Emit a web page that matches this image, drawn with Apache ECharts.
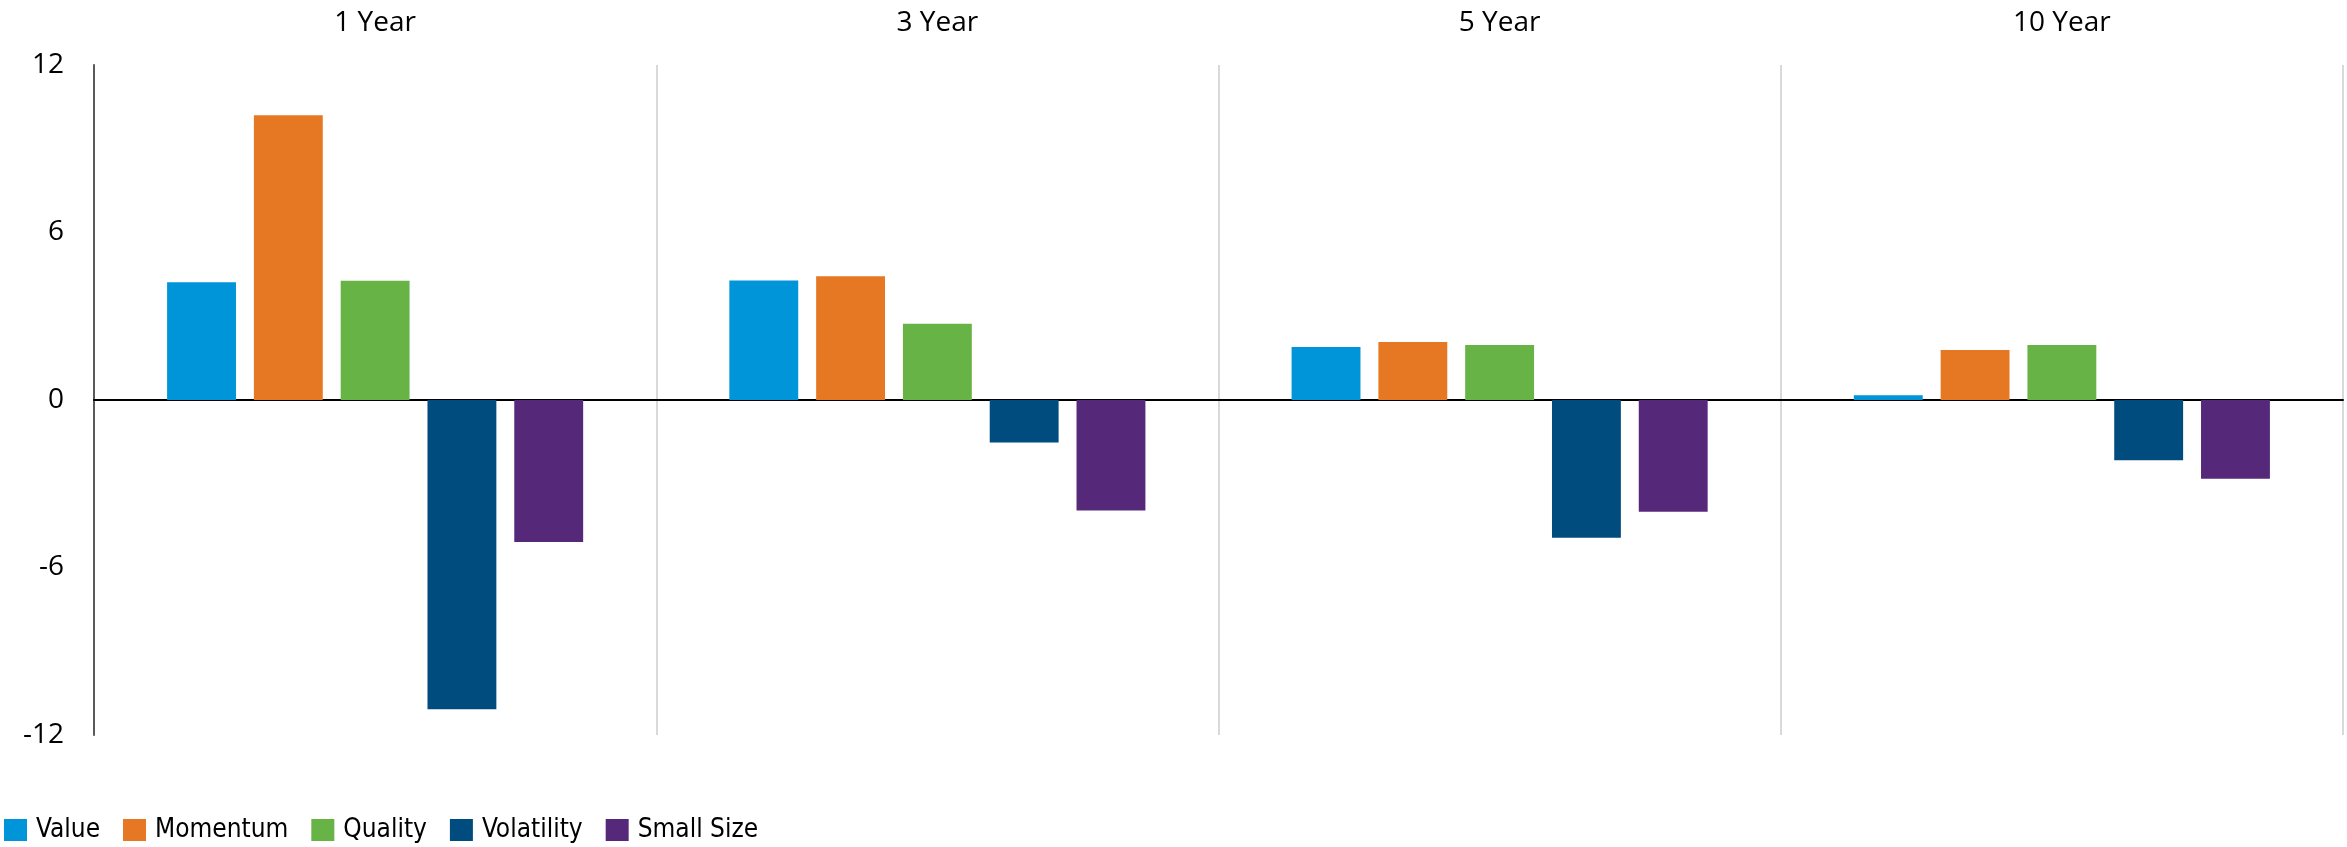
<!DOCTYPE html>
<html>
<head>
<meta charset="utf-8">
<script src="https://cdn.jsdelivr.net/npm/echarts@6/dist/echarts.min.js"></script>
<style>
html,body{margin:0;padding:0;background:#fff;}
#chart{width:2347px;height:847px;}
</style>
</head>
<body>
<div id="chart"></div>
<script>
const periods = ['1 Year', '3 Year', '5 Year', '10 Year'];
const valueData = [4.22, 4.28, 1.90, 0.17];
const momentumData = [10.2, 4.43, 2.08, 1.79];
const qualityData = [4.27, 2.73, 1.97, 1.97];
const volatilityData = [-11.08, -1.52, -4.93, -2.16];
const smallSizeData = [-5.09, -3.96, -4.00, -2.82];
const yTicks = [-12, -6, 0, 6, 12];

const seriesNames = ['Value', 'Momentum', 'Quality', 'Volatility', 'Small Size'];
const seriesColors = ['#0095D9', '#E67823', '#67B346', '#004C7E', '#56287A'];
const seriesData = [valueData, momentumData, qualityData, volatilityData, smallSizeData];

const condFont = '"Liberation Sans Narrow", "DejaVu Sans Condensed", sans-serif';
const openFont = '"Open Sans", sans-serif';

const chart = echarts.init(document.getElementById('chart'));
chart.setOption({
  animation: false,
  backgroundColor: '#fff',
  grid: { left: 94, right: 4, top: 65, bottom: 112 },
  legend: {
    left: 4, top: 817, padding: 0,
    icon: 'rect', itemWidth: 23, itemHeight: 22, itemGap: 23,
    textStyle: { fontFamily: condFont, fontSize: 26, color: '#000', padding: [0, 0, 0, 4] },
    data: seriesNames
  },
  xAxis: [
    {
      type: 'category', data: periods, position: 'top',
      axisLine: { show: false, onZero: false },
      axisTick: { show: false },
      axisLabel: { fontFamily: openFont, fontSize: 28, color: '#000', margin: 28 },
      splitLine: { show: true, lineStyle: { color: '#d9d9d9', width: 2 } }
    },
    {
      type: 'category', data: periods, position: 'bottom',
      axisLine: { show: true, onZero: true, lineStyle: { color: '#000', width: 2 } },
      axisTick: { show: false },
      axisLabel: { show: false },
      splitLine: { show: false }
    }
  ],
  yAxis: {
    type: 'value', min: yTicks[0], max: yTicks[yTicks.length - 1], interval: 6,
    axisLine: { show: true, lineStyle: { color: '#595959', width: 2 } },
    axisTick: { show: false },
    splitLine: { show: false },
    axisLabel: { fontFamily: openFont, fontSize: 28, color: '#000', margin: 30 }
  },
  series: seriesNames.map((n, i) => ({
    name: n, type: 'bar', xAxisIndex: 0,
    data: seriesData[i],
    itemStyle: { color: seriesColors[i] },
    barGap: '26%', barCategoryGap: '26%'
  }))
});
</script>
</body>
</html>
